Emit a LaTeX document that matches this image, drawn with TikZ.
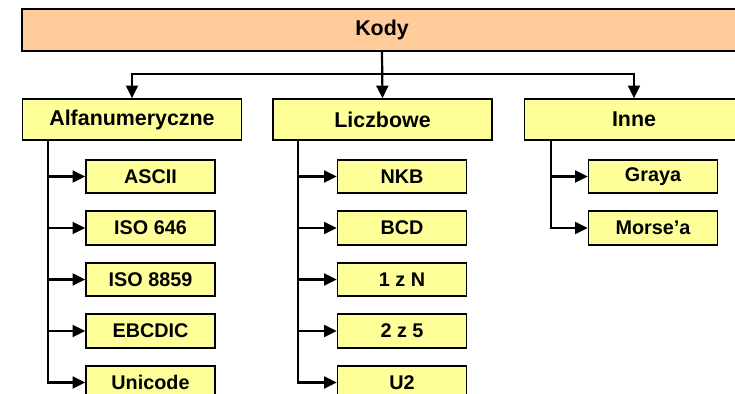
\documentclass[tikz,border=0pt]{standalone}
\usepackage{fontspec}
\setmainfont{Liberation Sans}
\usepackage{xcolor}
\usetikzlibrary{arrows.meta,positioning}
\definecolor{peach}{HTML}{FFCC99}
\definecolor{lemon}{HTML}{FFFF99}
\tikzset{
	topbox/.style={draw, fill=peach, line width=0.8pt, minimum width=360pt, minimum height=21pt, inner sep=0pt, font=\fontsize{10.7}{12}\selectfont\bfseries},
	groupbox/.style={draw, fill=lemon, line width=0.8pt, minimum width=109.5pt, minimum height=20.5pt, inner sep=0pt, font=\fontsize{10.7}{12}\selectfont\bfseries},
	itembox/.style={draw, fill=lemon, line width=0.8pt, minimum width=64.5pt, minimum height=16.75pt, inner sep=0pt, font=\fontsize{9.9}{12}\selectfont\bfseries},
	arr/.style={line width=1.1pt, -{Triangle[width=6pt,length=6.3pt]}}
}
\begin{document}
\begin{tikzpicture}[x=0.5pt,y=-0.5pt]
	\useasboundingbox (0,0) rectangle (735,394);
	\clip (0,0) rectangle (735,394);
	% main box and groups
	\node[topbox] (kody) at (382,30) {Kody};
	\node[groupbox] (alfa) at (132,119.5) {Alfanumeryczne};
	\node[groupbox] (licz) at (382.5,119.5) {Liczbowe};
	\node[groupbox] (inne) at (634,119.5) {Inne};
	\coordinate (bus) at (382,74);
	\draw[arr] (kody.south) -- (licz.north);
	\draw[arr] (bus) -| (alfa.north);
	\draw[arr] (bus) -| (inne.north);
	% items
	\foreach \n/\t [count=\i] in {a1/ASCII, a2/ISO 646, a3/ISO 8859, a4/EBCDIC, a5/Unicode} {
		\node[itembox] (\n) at (150.5, 125+51.5*\i) {\t};
		\draw[arr] ([xshift=13pt]alfa.south west) |- (\n.west);
	}
	\foreach \n/\t [count=\i] in {l1/NKB, l2/BCD, l3/1 z N, l4/2 z 5, l5/U2} {
		\node[itembox] (\n) at (402, 125+51.5*\i) {\t};
		\draw[arr] ([xshift=13pt]licz.south west) |- (\n.west);
	}
	\foreach \n/\t [count=\i] in {i1/Graya, i2/Morse’a} {
		\node[itembox] (\n) at (653, 125+51.5*\i) {\t};
		\draw[arr] ([xshift=13.5pt]inne.south west) |- (\n.west);
	}
\end{tikzpicture}
\end{document}
